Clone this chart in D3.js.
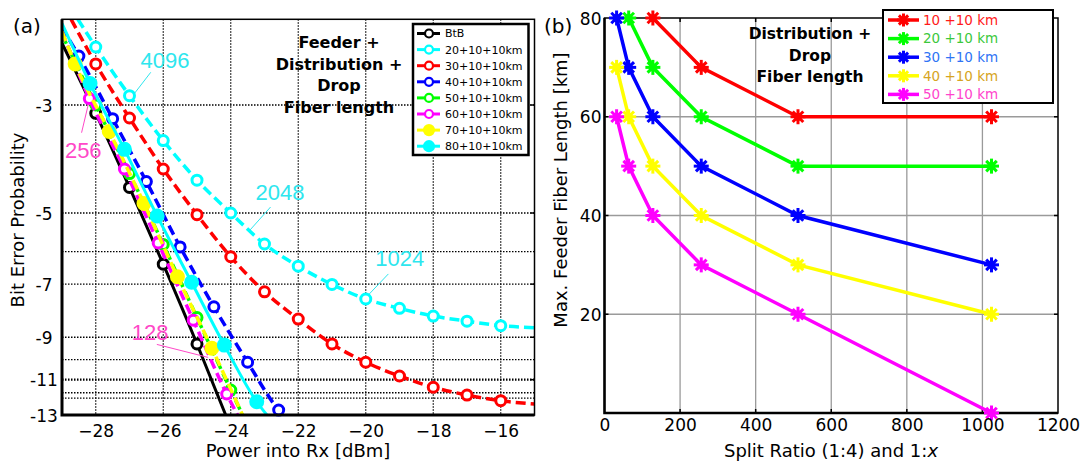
<!DOCTYPE html>
<html>
<head>
<meta charset="utf-8">
<script src="https://cdn.jsdelivr.net/npm/d3@7"></script>
<style>
  body { margin: 0; background: #fff; }
  svg { display: block; font-family: 'DejaVu Sans', Verdana, sans-serif; }
</style>
</head>
<body>
<svg id="chart" width="1089" height="463"></svg>
<script>
// ---------- panel (a): BER vs received power ----------
// points are [power into Rx (dBm), -log10(BER)]
// first and last point of each trace = where the fitted curve meets the frame
const berNames = ['BtB', '20+10+10km', '30+10+10km', '40+10+10km', '50+10+10km', '60+10+10km', '70+10+10km', '80+10+10km'];
const berColors = ['#000000', '#00ffff', '#ff0000', '#0000ff', '#00ff00', '#ff00ff', '#ffff00', '#00ffff'];
const berDashed = [false, true, true, true, true, true, true, false];
const berFilled = [false, false, false, false, false, false, true, true];

const berBtB = [[-29, 2.24], [-28, 3.12], [-27, 4.43], [-26, 6.37], [-25, 9.29], [-24.15, 13]];
const ber20 = [[-28.53, 2.0], [-28, 2.28], [-27, 2.87], [-26, 3.55], [-25, 4.28], [-24, 5.0], [-23, 5.79], [-22, 6.43],
  [-21, 7.01], [-20, 7.51], [-19, 7.85], [-18, 8.14], [-17, 8.34], [-16, 8.52], [-15, 8.6]];
const ber30 = [[-28.73, 2.0], [-28, 2.47], [-27, 3.19], [-26, 4.06], [-25, 5.04], [-24, 6.15], [-23, 7.26], [-22, 8.26],
  [-21, 9.29], [-20, 10.13], [-19, 10.81], [-18, 11.4], [-17, 11.83], [-16, 12.15], [-15, 12.34]];
const ber40 = [[-29, 2.08], [-28.5, 2.38], [-27.5, 3.2], [-26.5, 4.31], [-25.5, 5.87], [-24.5, 7.79], [-23.5, 10.13], [-22.58, 12.7], [-22.45, 13]];
const ber50 = [[-29, 2.15], [-28, 3.0], [-27, 4.15], [-26, 5.8], [-25, 8.2], [-24, 11.55], [-23.65, 13]];
const ber60 = [[-29, 2.12], [-28.19, 2.91], [-27.15, 4.06], [-26.15, 5.76], [-25.11, 8.3], [-24.12, 11.77], [-23.8, 13]];
const ber70 = [[-29, 2.12], [-28.61, 2.47], [-27.6, 3.4], [-26.57, 4.78], [-25.58, 6.76], [-24.56, 9.48], [-23.65, 13]];
const ber80 = [[-29, 2.04], [-28.17, 2.71], [-27.15, 3.7], [-26.18, 5.07], [-25.16, 6.94], [-24.19, 9.34], [-23.23, 12.21], [-22.93, 13]];
const berTraces = [berBtB, ber20, ber30, ber40, ber50, ber60, ber70, ber80];

const powerTicks = [-28, -26, -24, -22, -20, -18, -16];
const berTicks = [3, 5, 7, 9, 11, 13];
const berGridLevels = [3, 5, 6, 7, 9, 10, 11, 11.7, 12];

// split-ratio labels with leader lines: text at [dBm, -log BER], line from -> to
const berNotes = [
  { text: '4096', color: '#2ee6ee', at: [-25.95, 2.43], from: [-26.37, 2.57], to: [-26.87, 2.85] },
  { text: '256', color: '#ff48c8', at: [-28.37, 3.71], from: [-28.42, 3.42], to: [-28.22, 2.99] },
  { text: '2048', color: '#2ee6ee', at: [-22.54, 4.52], from: [-22.82, 4.86], to: [-23.43, 5.42] },
  { text: '1024', color: '#2ee6ee', at: [-18.99, 6.19], from: [-19.33, 6.67], to: [-19.9, 7.34] },
  { text: '128', color: '#ff48c8', at: [-26.39, 8.77], from: [-26.19, 9.31], to: [-24.67, 9.9] }
];

// ---------- panel (b): max feeder length vs split ratio ----------
const splitRatios = [32, 64, 128, 256, 512, 1024];
const reachNames = ['10 +10 km', '20 +10 km', '30 +10 km', '40 +10 km', '50 +10 km'];
const reachColors = ['#ff0000', '#00ff00', '#0000ff', '#ffff00', '#ff00ff'];
const reachTextColors = ['#ff1a1a', '#3cc83c', '#2f74f5', '#d6a422', '#ff44cc'];
const reach10 = [null, null, 80, 70, 60, 60];
const reach20 = [null, 80, 70, 60, 50, 50];
const reach30 = [80, 70, 60, 50, 40, 30];
const reach40 = [70, 60, 50, 40, 30, 20];
const reach50 = [60, 50, 40, 30, 20, 0];
const reachSeries = [reach10, reach20, reach30, reach40, reach50];

const splitTicks = [0, 200, 400, 600, 800, 1000, 1200];
const lengthTicks = [20, 40, 60, 80];

const svg = d3.select('#chart');
svg.append('rect').attr('width', 1089).attr('height', 463).attr('fill', '#fff');

// ================= panel (a) =================
const xA = d3.scaleLinear().domain([-29, -15]).range([62, 534.5]);
const yA = d3.scaleLog().domain([2, 13]).range([19.3, 415]);

const ga = svg.append('g');
ga.append('clipPath').attr('id', 'clipA')
  .append('rect')
    .attr('x', xA(-29)).attr('y', yA(2))
    .attr('width', xA(-15) - xA(-29)).attr('height', yA(13) - yA(2));

// dotted grid
ga.selectAll('.vgrid')
    .data(powerTicks)
  .join('line')
    .attr('x1', d => xA(d)).attr('x2', d => xA(d))
    .attr('y1', yA(2)).attr('y2', yA(13))
    .attr('stroke', '#000').attr('stroke-width', 1.2)
    .attr('stroke-dasharray', '1.5,1.5');

ga.selectAll('.hgrid')
    .data(berGridLevels)
  .join('line')
    .attr('x1', xA(-29)).attr('x2', xA(-15))
    .attr('y1', d => yA(d)).attr('y2', d => yA(d))
    .attr('stroke', '#000').attr('stroke-width', d => d === 11 ? 2.2 : 1.3)
    .attr('stroke-dasharray', '1.5,1.5');

// traces
const berLine = d3.line()
    .x(d => xA(d[0]))
    .y(d => yA(d[1]))
    .curve(d3.curveMonotoneX);

berTraces.forEach((pts, i) => {
  ga.append('path')
      .attr('d', berLine(pts))
      .attr('fill', 'none')
      .attr('stroke', berColors[i])
      .attr('stroke-width', berDashed[i] ? 3.5 : 3)
      .attr('stroke-dasharray', berDashed[i] ? '10,5' : null)
      .attr('clip-path', 'url(#clipA)');

  ga.selectAll('.m' + i)
      .data(pts.slice(1, -1))
    .join('circle')
      .attr('cx', d => xA(d[0]))
      .attr('cy', d => yA(d[1]))
      .attr('r', berFilled[i] ? 6 : 5)
      .attr('fill', berFilled[i] ? berColors[i] : '#fff')
      .attr('stroke', berColors[i])
      .attr('stroke-width', 3);
});

// leader labels
berNotes.forEach(n => {
  ga.append('line')
      .attr('x1', xA(n.from[0])).attr('y1', yA(n.from[1]))
      .attr('x2', xA(n.to[0])).attr('y2', yA(n.to[1]))
      .attr('stroke', n.color).attr('stroke-width', 1);
  ga.append('text')
      .attr('x', xA(n.at[0])).attr('y', yA(n.at[1]))
      .attr('dy', '0.36em')
      .attr('text-anchor', 'middle')
      .attr('font-family', "'Liberation Sans', Arial, sans-serif")
      .attr('font-size', 22)
      .attr('fill', n.color)
      .text(n.text);
});

// frame
ga.append('rect')
    .attr('x', xA(-29)).attr('y', yA(2))
    .attr('width', xA(-15) - xA(-29)).attr('height', yA(13) - yA(2))
    .attr('fill', 'none').attr('stroke', '#000').attr('stroke-width', 1.5);
ga.append('path')
    .attr('d', `M${xA(-29)},${yA(2)}V${yA(13)}H${xA(-15)}`)
    .attr('fill', 'none').attr('stroke', '#000').attr('stroke-width', 3);
ga.selectAll('.rtick')
    .data(berTicks)
  .join('line')
    .attr('x1', xA(-15) - 4).attr('x2', xA(-15))
    .attr('y1', d => yA(d)).attr('y2', d => yA(d))
    .attr('stroke', '#000').attr('stroke-width', 1.5);

// axes (labels only)
const axA = ga.append('g')
    .attr('transform', `translate(0,${yA(13)})`)
    .call(d3.axisBottom(xA).tickValues(powerTicks).tickSize(0).tickPadding(10));
const ayA = ga.append('g')
    .attr('transform', `translate(44,0)`)
    .call(d3.axisLeft(yA).tickValues(berTicks).tickFormat(d => '-' + d).tickSize(0).tickPadding(0));
[axA, ayA].forEach(g => {
  g.select('.domain').remove();
  g.selectAll('text').attr('font-family', "'DejaVu Sans', sans-serif").attr('font-size', 17).attr('fill', '#000');
});
ayA.selectAll('text').attr('text-anchor', 'middle').attr('dy', '0.36em');
axA.selectAll('text').attr('dy', '0.71em');

ga.append('text')
    .attr('x', 298).attr('y', 457)
    .attr('text-anchor', 'middle').attr('font-size', 18)
    .text('Power into Rx [dBm]');
ga.append('text')
    .attr('transform', 'translate(24,220) rotate(-90)')
    .attr('text-anchor', 'middle').attr('font-size', 18)
    .text('Bit Error Probability');
ga.append('text')
    .attr('x', 13).attr('y', 33).attr('font-size', 20)
    .text('(a)');

const noteA = ['Feeder +', 'Distribution +', 'Drop', 'Fiber length'];
ga.selectAll('.noteA')
    .data(noteA)
  .join('text')
    .attr('x', 339).attr('y', (d, i) => 48 + i * 21.5)
    .attr('text-anchor', 'middle')
    .attr('font-weight', 'bold').attr('font-size', 16)
    .text(d => d);

// legend (a)
const legA = ga.append('g').attr('transform', 'translate(413,24)');
legA.append('rect')
    .attr('width', 115.5).attr('height', 131)
    .attr('fill', '#fff').attr('stroke', '#000').attr('stroke-width', 2.5);
berNames.forEach((name, i) => {
  const y = 9.5 + i * 16.1;
  legA.append('line')
      .attr('x1', 4).attr('x2', 27).attr('y1', y).attr('y2', y)
      .attr('stroke', berColors[i]).attr('stroke-width', 3);
  legA.append('circle')
      .attr('cx', 16).attr('cy', y).attr('r', berFilled[i] ? 5 : 4)
      .attr('fill', berFilled[i] ? berColors[i] : '#fff')
      .attr('stroke', berColors[i]).attr('stroke-width', 2.2);
  legA.append('text')
      .attr('x', 32).attr('y', y).attr('dy', '0.36em')
      .attr('font-size', 11)
      .text(name);
});

// ================= panel (b) =================
const xB = d3.scaleLinear().domain([0, 1200]).range([604.5, 1058]);
const yB = d3.scaleLinear().domain([0, 80]).range([413, 18]);

const gb = svg.append('g');

gb.selectAll('.vgridb')
    .data(splitTicks.slice(1, -1))
  .join('line')
    .attr('x1', d => xB(d)).attr('x2', d => xB(d))
    .attr('y1', yB(0)).attr('y2', yB(80))
    .attr('stroke', '#9a9a9a').attr('stroke-width', 1.3);
gb.selectAll('.hgridb')
    .data(lengthTicks.slice(0, -1))
  .join('line')
    .attr('x1', xB(0)).attr('x2', xB(1200))
    .attr('y1', d => yB(d)).attr('y2', d => yB(d))
    .attr('stroke', '#9a9a9a').attr('stroke-width', 1.3);

// frame + inward ticks
gb.append('rect')
    .attr('x', xB(0)).attr('y', yB(80))
    .attr('width', xB(1200) - xB(0)).attr('height', yB(0) - yB(80))
    .attr('fill', 'none').attr('stroke', '#000').attr('stroke-width', 1.5);
gb.append('path')
    .attr('d', `M${xB(0)},${yB(80)}V${yB(0)}H${xB(1200)}`)
    .attr('fill', 'none').attr('stroke', '#000').attr('stroke-width', 2.5);
gb.selectAll('.xtickb')
    .data(splitTicks.slice(1, -1))
  .join('path')
    .attr('d', d => `M${xB(d)},${yB(0)}v-4M${xB(d)},${yB(80)}v4`)
    .attr('stroke', '#000').attr('stroke-width', 1.5);
gb.selectAll('.ytickb')
    .data(lengthTicks.slice(0, -1))
  .join('path')
    .attr('d', d => `M${xB(0)},${yB(d)}h4M${xB(1200)},${yB(d)}h-4`)
    .attr('stroke', '#000').attr('stroke-width', 1.5);

// star marker like the '*' plot symbol
function star(g, cx, cy, color, r) {
  const s = g.append('g').attr('transform', `translate(${cx},${cy})`);
  d3.range(4).forEach(k => {
    const a = k * Math.PI / 4;
    s.append('line')
        .attr('x1', -r * Math.cos(a)).attr('y1', -r * Math.sin(a))
        .attr('x2', r * Math.cos(a)).attr('y2', r * Math.sin(a))
        .attr('stroke', color).attr('stroke-width', 3);
  });
  s.append('circle').attr('r', r * 0.55).attr('fill', color);
}

const reachLine = d3.line()
    .x(d => xB(d[0]))
    .y(d => yB(d[1]));

reachSeries.forEach((vals, i) => {
  const pts = splitRatios.map((s, j) => [s, vals[j]]).filter(d => d[1] !== null);
  gb.append('path')
      .attr('d', reachLine(pts))
      .attr('fill', 'none')
      .attr('stroke', reachColors[i])
      .attr('stroke-width', 3.5);
  pts.forEach(d => star(gb, xB(d[0]), yB(d[1]), reachColors[i], 7.5));
});

const axB = gb.append('g')
    .attr('transform', `translate(0,${yB(0)})`)
    .call(d3.axisBottom(xB).tickValues(splitTicks).tickFormat(d3.format('d')).tickSize(0).tickPadding(6));
const ayB = gb.append('g')
    .attr('transform', `translate(${xB(0) - 3},0)`)
    .call(d3.axisLeft(yB).tickValues(lengthTicks).tickSize(0).tickPadding(0));
[axB, ayB].forEach(g => {
  g.select('.domain').remove();
  g.selectAll('text').attr('font-family', "'DejaVu Sans', sans-serif").attr('font-size', 17).attr('fill', '#000');
});
axB.selectAll('text').attr('dy', '0.71em');
ayB.selectAll('text').attr('dy', '0.36em');

const xTitle = gb.append('text')
    .attr('x', 831).attr('y', 457)
    .attr('text-anchor', 'middle').attr('font-size', 18);
xTitle.append('tspan').text('Split Ratio (1:4) and 1:');
xTitle.append('tspan').attr('font-style', 'italic').text('x');

gb.append('text')
    .attr('transform', 'translate(567,190) rotate(-90)')
    .attr('text-anchor', 'middle').attr('font-size', 18)
    .text('Max.  Feeder Fiber Length [km]');
gb.append('text')
    .attr('x', 544).attr('y', 33).attr('font-size', 20)
    .text('(b)');

const noteB = ['Distribution +', 'Drop', 'Fiber length'];
gb.selectAll('.noteB')
    .data(noteB)
  .join('text')
    .attr('x', 810).attr('y', (d, i) => 39 + i * 21.5)
    .attr('text-anchor', 'middle')
    .attr('font-weight', 'bold').attr('font-size', 15.5)
    .text(d => d);

// legend (b)
const legB = gb.append('g').attr('transform', 'translate(883,10)');
legB.append('rect')
    .attr('width', 170).attr('height', 93)
    .attr('fill', '#fff').attr('stroke', '#000').attr('stroke-width', 2);
reachNames.forEach((name, i) => {
  const y = 10 + i * 18.6;
  legB.append('line')
      .attr('x1', 5).attr('x2', 36).attr('y1', y).attr('y2', y)
      .attr('stroke', reachColors[i]).attr('stroke-width', 3.5);
  star(legB, 20.5, y, reachColors[i], 6.5);
  legB.append('text')
      .attr('x', 40).attr('y', y).attr('dy', '0.36em')
      .attr('font-size', 13.5)
      .attr('fill', reachTextColors[i])
      .text(name);
});
</script>
</body>
</html>
